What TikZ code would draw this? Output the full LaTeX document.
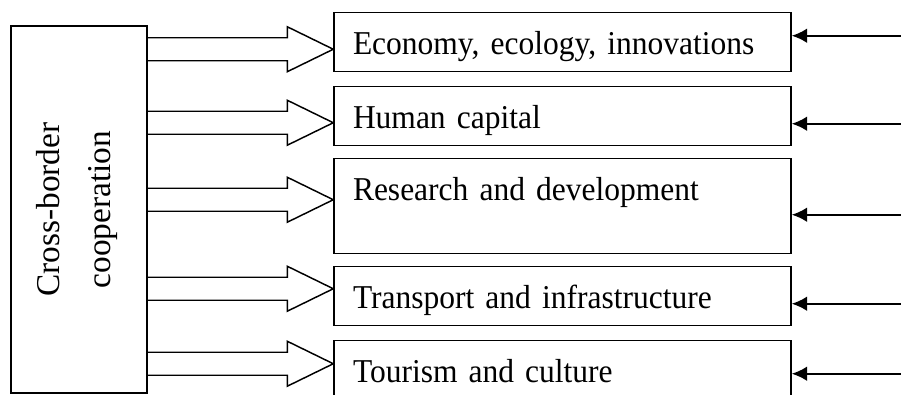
\documentclass[tikz,border=0pt]{standalone}
\usepackage{fontspec}
\setmainfont{Liberation Serif}[FakeStretch=0.945]
\newfontfamily\sidefont{Liberation Serif}
\usetikzlibrary{arrows.meta,calc}

\tikzset{
	blockbox/.style={draw, line width=1.1pt, inner xsep=14.25pt, inner ysep=0pt,
		text width=314.25pt, align=left, text height=31.5pt, text depth=12.75pt,
		font=\fontsize{25}{30}\selectfont},
	feed/.style={line width=1.6pt, -{Latex[length=11.5pt,width=11pt]}}
}

\begin{document}
\begin{tikzpicture}[x=0.75pt,y=-0.75pt]
	\useasboundingbox (0,0) rectangle (901,394);
	
	\node[draw, line width=1.1pt, minimum width=102pt, minimum height=275.25pt, inner sep=0pt] (cbc) at (79,209.5) {};
	\node[rotate=90, align=center, font=\sidefont\fontsize{25}{34.5}\selectfont] (cbc-label) at ($(cbc)+(-2,0)$) {Cross-border\\[4pt]cooperation};
	
	\node[blockbox, anchor=north] (econ) at (562.5,12) {Economy, ecology, innovations};
	\node[blockbox, anchor=north] (human) at (562.5,86) {Human capital};
	\node[blockbox, anchor=north, text depth=39.75pt] (rnd) at (562.5,158) {Research and development};
	\node[blockbox, anchor=north] (trans) at (562.5,266) {Transport and infrastructure};
	\node[blockbox, anchor=north, text depth=12pt] (tour) at (562.5,340) {Tourism and culture};
	
	% hollow arrows
	\foreach \b/\dy in {econ/7, human/6.5, rnd/-6.5, trans/-7.5, tour/-6} {
		\coordinate (t) at ($(\b.west)+(0,\dy)$);
		\coordinate (s) at (cbc.east |- t);
		\draw[line width=1.1pt] ($(s)+(0,-11.5)$) -- ($(t)+(-46,-11.5)$) -- ($(t)+(-46,-22.5)$)
			-- (t) -- ($(t)+(-46,22.5)$) -- ($(t)+(-46,11.5)$) -- ($(s)+(0,11.5)$);
	}
	
	\foreach \b/\dy in {econ/-6.5, human/7.5, rnd/8.5, trans/7.5, tour/4} {
		\coordinate (src-\b) at ($(\b.east)+(110,\dy)$);
		\draw[feed] (src-\b) -- ($(\b.east)+(0,\dy)$);
	}
\end{tikzpicture}
\end{document}
